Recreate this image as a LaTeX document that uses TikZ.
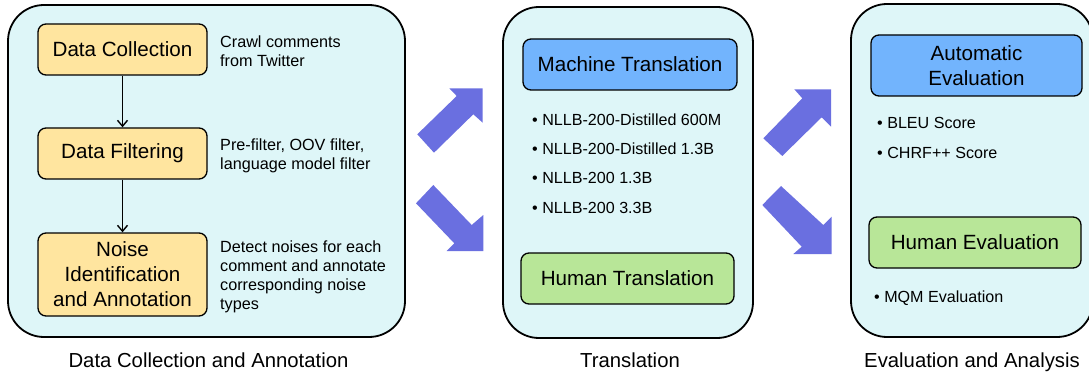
\documentclass[tikz,border=0pt]{standalone}
\usepackage{fontspec}
\setmainfont{Liberation Sans}
\usetikzlibrary{arrows.meta}
\definecolor{panelfill}{HTML}{DEF6F8}
\definecolor{yelfill}{HTML}{FFE59F}
\definecolor{bluefill}{HTML}{72B4FD}
\definecolor{greenfill}{HTML}{B8E698}
\definecolor{bigarrow}{HTML}{6A6FE0}
\tikzset{
  panel/.style={draw=black, line width=1.8pt, fill=panelfill, rounded corners=36pt, inner sep=0pt},
  stepbox/.style={draw=black, line width=1.3pt, rounded corners=8pt, inner sep=0pt, align=center,
    font=\fontsize{20.6}{25}\selectfont},
  sidetext/.style={anchor=north west, inner sep=0pt, align=left, font=\fontsize{16.2}{19}\selectfont},
  item/.style={anchor=base west, inner sep=0pt, font=\fontsize{16.1}{19}\selectfont},
  caption/.style={anchor=base, inner sep=0pt, font=\fontsize{20.3}{24}\selectfont},
  flow/.style={draw=black, line width=1.4pt, -{Straight Barb[length=6pt,width=10pt,line width=1.4pt]}},
  fatarrow/.style={fill=bigarrow, draw=none},
}
\begin{document}
\begin{tikzpicture}[x=1pt, y=-1pt]
\useasboundingbox (0,0) rectangle (1089,374);
\clip (0,0) rectangle (1089,374);

% panels
\node[panel, minimum width=397pt, minimum height=332pt] (p1) at (206.5,171) {};
\node[panel, minimum width=250pt, minimum height=331pt] (p2) at (628,172.5) {};
\node[panel, minimum width=242pt, minimum height=333pt] (p3) at (972,170.5) {};

% left panel boxes
\node[stepbox, fill=yelfill, minimum width=169pt, minimum height=51pt] (dc) at (122.5,49.5) {Data Collection};
\node[stepbox, fill=yelfill, minimum width=169pt, minimum height=51pt] (df) at (122.5,153.5) {Data Filtering};
\node[stepbox, fill=yelfill, minimum width=169pt, minimum height=83pt] (ni) at (122.5,274.5) {Noise\\Identification\\and Annotation};
\draw[flow] (dc) -- (df);
\draw[flow] (df) -- (ni);

\node[sidetext] (t1) at (220,35.5) {Crawl comments\\from Twitter};
\node[sidetext] (t2) at (220,138.5) {Pre-filter, OOV filter,\\language model filter};
\node[sidetext] (t3) at (220,240.5) {Detect noises for each\\comment and annotate\\corresponding noise\\types};

% middle panel
\node[stepbox, fill=bluefill, minimum width=214pt, minimum height=51pt] (mt) at (630,64.5) {Machine Translation};
\node[stepbox, fill=greenfill, minimum width=213pt, minimum height=51pt] (ht) at (627.5,278.5) {Human Translation};
\node[item] (m1) at (532,126) {• NLLB-200-Distilled 600M};
\node[item] (m2) at (532,155) {• NLLB-200-Distilled 1.3B};
\node[item] (m3) at (532,183.5) {• NLLB-200 1.3B};
\node[item] (m4) at (532,213) {• NLLB-200 3.3B};

% right panel
\node[stepbox, fill=bluefill, minimum width=211pt, minimum height=61pt] (ae) at (976.5,65.5) {Automatic\\Evaluation};
\node[stepbox, fill=greenfill, minimum width=212pt, minimum height=51pt] (he) at (975,242.5) {Human Evaluation};
\node[item] (e1) at (877,129) {• BLEU Score};
\node[item] (e2) at (877,159) {• CHRF++ Score};
\node[item] (e3) at (874,302) {• MQM Evaluation};

% captions
\node[caption] (c1) at (208.5,367) {Data Collection and Annotation};
\node[caption] (c2) at (630,367) {Translation};
\node[caption] (c3) at (972,367) {Evaluation and Analysis};

% big arrows
\fill[fatarrow] (482.7,88.3) -- (449.3,88.3) -- (456.7,96) -- (417.3,134.3) -- (434,152.7) -- (473.3,114.3) -- (482.7,122.7) -- cycle;
\fill[fatarrow] (483.3,251) -- (446.7,251) -- (454.3,243.3) -- (416,203.3) -- (433.3,185) -- (471.7,225) -- (483.3,215) -- cycle;
\fill[fatarrow] (831,89.3) -- (794.3,89.3) -- (802.3,98.3) -- (763.3,138.3) -- (782.3,156) -- (821.7,117.3) -- (831,126.7) -- cycle;
\fill[fatarrow] (831.7,254) -- (793.3,254) -- (801.7,246.7) -- (762.3,205) -- (781,186) -- (823.3,225) -- (831.7,216.7) -- cycle;
\end{tikzpicture}
\end{document}
